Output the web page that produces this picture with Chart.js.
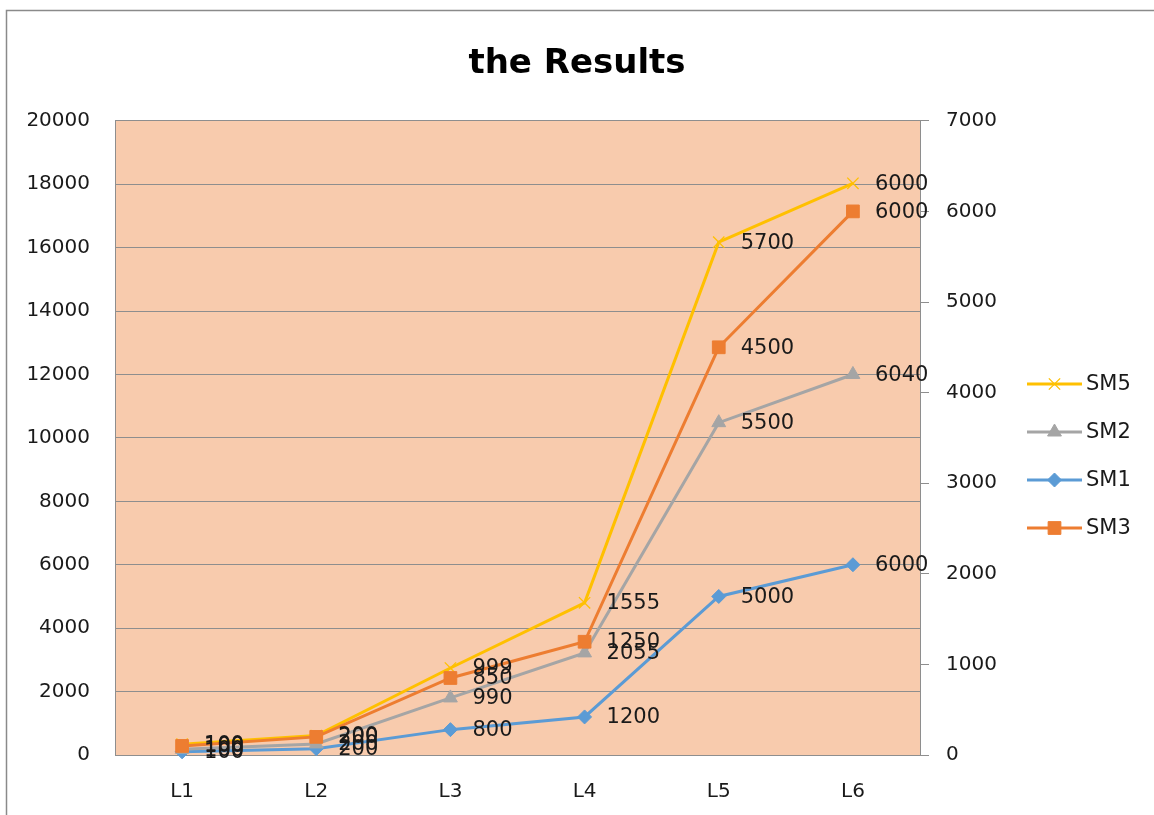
<!DOCTYPE html>
<html>
<head>
<meta charset="utf-8">
<script src="https://cdn.jsdelivr.net/npm/chart.js@4.4.0/dist/chart.umd.min.js"></script>
<style>
  html, body { margin: 0; padding: 0; background: #ffffff; overflow: hidden; }
  #wrap { width: 1154px; height: 815px; position: relative; }
</style>
</head>
<body>
<div id="wrap"><canvas id="c" width="1154" height="815"></canvas></div>
<script>
// ---- data ----
const categories = ['L1', 'L2', 'L3', 'L4', 'L5', 'L6'];
const seriesNames = ['SM5', 'SM2', 'SM1', 'SM3'];
// plotted positions (SM5, SM3 on right axis; SM1, SM2 on left axis)
const sm5Values = [120, 215, 960, 1680, 5660, 6310];
const sm2Values = [180, 350, 1800, 3220, 10480, 12000];
const sm1Values = [100, 200, 800, 1200, 5000, 6000];
const sm3Values = [100, 200, 850, 1250, 4500, 6000];
// data label texts as printed on the chart
const sm5Labels = ['100', '200', '999', '1555', '5700', '6000'];
const sm2Labels = ['100', '200', '990', '2055', '5500', '6040'];
const sm1Labels = ['100', '200', '800', '1200', '5000', '6000'];
const sm3Labels = ['100', '200', '850', '1250', '4500', '6000'];
const leftTicks = [0, 2000, 4000, 6000, 8000, 10000, 12000, 14000, 16000, 18000, 20000];
const rightTicks = [0, 1000, 2000, 3000, 4000, 5000, 6000, 7000];

const FONT = 'DejaVu Sans';
const GRID = '#8e8e8e';

const datasets = [
  { label: seriesNames[0], data: sm5Values, yAxisID: 'y1', borderColor: '#FFC000', backgroundColor: '#FFC000',
    pointStyle: 'crossRot', pointRadius: 8, pointBorderWidth: 1.3, borderWidth: 3, order: 1, valueLabels: sm5Labels },
  { label: seriesNames[1], data: sm2Values, yAxisID: 'y', borderColor: '#A5A5A5', backgroundColor: '#A5A5A5',
    pointStyle: 'triangle', pointRadius: 8, pointBorderWidth: 1, borderWidth: 3, order: 2, valueLabels: sm2Labels },
  { label: seriesNames[2], data: sm1Values, yAxisID: 'y', borderColor: '#5B9BD5', backgroundColor: '#5B9BD5',
    pointStyle: 'rectRot', pointRadius: 7, pointBorderWidth: 1, borderWidth: 3, order: 3, valueLabels: sm1Labels },
  { label: seriesNames[3], data: sm3Values, yAxisID: 'y1', borderColor: '#ED7D31', backgroundColor: '#ED7D31',
    pointStyle: 'rect', pointRadius: 9, pointBorderWidth: 1, borderWidth: 3, order: 0, valueLabels: sm3Labels }
];
datasets.forEach(d => { d.tension = 0; d.fill = false; d.pointHoverRadius = d.pointRadius; d.clip = false; });

const frameAndBg = {
  id: 'frameAndBg',
  beforeDraw(chart) {
    const ctx = chart.ctx, a = chart.chartArea;
    ctx.save();
    ctx.fillStyle = '#ffffff';
    ctx.fillRect(0, 0, chart.width, chart.height);
    ctx.strokeStyle = '#8a8a8a';
    ctx.lineWidth = 1.5;
    ctx.beginPath();
    ctx.moveTo(6.5, chart.height + 5);
    ctx.lineTo(6.5, 10.5);
    ctx.lineTo(chart.width + 5, 10.5);
    ctx.stroke();
    ctx.fillStyle = '#F8CBAD';
    ctx.fillRect(a.left, a.top, a.right - a.left, a.bottom - a.top);
    ctx.restore();
  }
};

const valueLabelsPlugin = {
  id: 'valueLabels',
  afterDatasetsDraw(chart) {
    const ctx = chart.ctx;
    ctx.save();
    ctx.font = '21px "' + FONT + '"';
    ctx.fillStyle = '#1a1a1a';
    ctx.textAlign = 'left';
    ctx.textBaseline = 'middle';
    chart.data.datasets.forEach((ds, i) => {
      const meta = chart.getDatasetMeta(i);
      meta.data.forEach((pt, j) => {
        ctx.fillText(ds.valueLabels[j], pt.x + 22, pt.y + 1);
      });
    });
    ctx.restore();
  }
};

const legendPlugin = {
  id: 'customLegend',
  afterDraw(chart) {
    const ctx = chart.ctx;
    const ys = [384, 432, 480, 528];
    ctx.save();
    chart.data.datasets.forEach((ds, i) => {
      const y = ys[i];
      ctx.strokeStyle = ds.borderColor;
      ctx.lineWidth = 3;
      ctx.beginPath();
      ctx.moveTo(1027, y);
      ctx.lineTo(1082, y);
      ctx.stroke();
      ctx.fillStyle = ds.backgroundColor;
      ctx.lineWidth = ds.pointBorderWidth;
      Chart.helpers.drawPoint(ctx, {
        pointStyle: ds.pointStyle, radius: ds.pointRadius, borderWidth: ds.pointBorderWidth, rotation: 0
      }, 1054.5, y);
    });
    ctx.font = '21px "' + FONT + '"';
    ctx.fillStyle = '#1a1a1a';
    ctx.textAlign = 'left';
    ctx.textBaseline = 'middle';
    chart.data.datasets.forEach((ds, i) => {
      ctx.fillText(ds.label, 1086, ys[i] + 1);
    });
    ctx.restore();
  }
};

new Chart(document.getElementById('c'), {
  type: 'line',
  data: { labels: categories, datasets: datasets },
  options: {
    responsive: false,
    animation: false,
    events: [],
    layout: { padding: { top: 10, left: 0, right: 0, bottom: 0 } },
    plugins: {
      legend: { display: false },
      tooltip: { enabled: false },
      title: {
        display: true,
        text: 'the Results',
        color: '#000000',
        font: { family: FONT, size: 34, weight: 'bold' },
        padding: { top: 34, bottom: 36 }
      }
    },
    scales: {
      x: {
        type: 'category',
        offset: true,
        grid: { display: false },
        border: { display: false },
        ticks: { color: '#1a1a1a', font: { family: FONT, size: 20 }, padding: 17, maxRotation: 0 },
        afterFit(s) { s.height = 60; }
      },
      y: {
        position: 'left',
        min: 0, max: 20000,
        afterBuildTicks(s) { s.ticks = leftTicks.map(v => ({ value: v })); },
        grid: { color: GRID, lineWidth: 1, drawTicks: false },
        border: { display: true, color: GRID, width: 1 },
        ticks: { color: '#1a1a1a', font: { family: FONT, size: 20 }, padding: 25, callback: v => String(v) },
        afterFit(s) { s.width = 115; }
      },
      y1: {
        position: 'right',
        min: 0, max: 7000,
        afterBuildTicks(s) { s.ticks = rightTicks.map(v => ({ value: v })); },
        grid: { drawOnChartArea: false, drawTicks: true, tickLength: 9, color: GRID, lineWidth: 1 },
        border: { display: true, color: GRID, width: 1 },
        ticks: { color: '#1a1a1a', font: { family: FONT, size: 20 }, padding: 17, callback: v => String(v) },
        afterFit(s) { s.width = 234; }
      }
    }
  },
  plugins: [frameAndBg, valueLabelsPlugin, legendPlugin]
});
</script>
</body>
</html>
